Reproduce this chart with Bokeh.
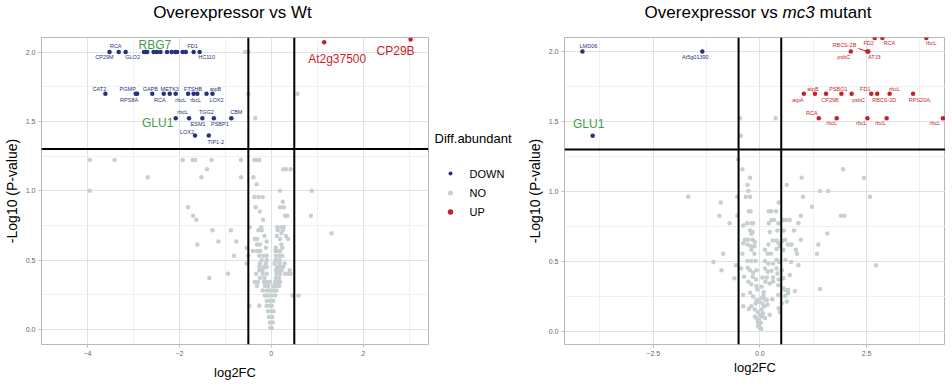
from bokeh.plotting import figure
from bokeh.models import (Range1d, FixedTicker, Span, ColumnDataSource, Div)
from bokeh.layouts import row, column
from bokeh.embed import file_html
from bokeh.resources import INLINE
from bokeh.core.properties import value

FONT = "Liberation Sans"
C_DOWN = "#27327a"
C_UP = "#c71f2b"
C_NO = "#c6d0d0"
C_HL = "#3f9d4a"

FC_CUT = [-0.5, 0.5]
P_CUT = 1.3

TITLE_L = "Overexpressor vs Wt"
TITLE_R = ["Overexpressor vs ", "mc3", " mutant"]
LEGEND_TITLE = "Diff.abundant"
LEGEND_LABELS = ["DOWN", "NO", "UP"]
LEGEND_COLORS = [C_DOWN, C_NO, C_UP]

# ---------------- Left panel: Overexpressor vs Wt ----------------
L_down_x = [-3.52, -3.32, -3.17, -2.77, -2.73, -2.70, -2.56, -2.49, -2.41, -2.27, -2.17, -2.09,
            -2.05, -1.93, -1.86, -1.69, -1.56,
            -3.61, -2.95, -2.92, -2.59, -2.34, -2.21, -2.08, -1.81, -1.69, -1.61, -1.41, -1.28,
            -2.08, -1.79, -1.50, -1.25, -0.87,
            -1.66, -1.36]
L_down_y = [2.0, 2.0, 2.0, 2.0, 2.0, 2.0, 2.0, 2.0, 2.0, 2.0, 2.0, 2.0, 2.0, 2.0, 2.0, 2.0, 2.0,
            1.699, 1.699, 1.699, 1.699, 1.699, 1.699, 1.699, 1.699, 1.699, 1.699, 1.699, 1.699,
            1.523, 1.523, 1.523, 1.523, 1.523,
            1.398, 1.398]
L_down_name = ["CP29M", "RCA", "GLO2", "", "", "", "", "", "", "", "", "", "", "", "", "FD1", "HC110",
               "CAT2", "PGMP", "RPS8A", "GAPB", "RCA", "METK3", "rbcL", "FTSHB", "rbcL", "", "LOX2", "atpB",
               "rbcL", "ESM1", "TGG2", "PSBP1", "CBM",
               "LOX2", "TIP1-2"]
L_up_x = [1.15, 3.03]
L_up_y = [2.07, 2.09]
L_up_name = ["At2g37500", "CP29B"]
L_hl_name = ["RBG7", "GLU1"]
L_hl_idx = [4, 29]

L_no_x = [-0.57, -0.50, -0.50, 0.57, -0.35,
          -3.95, -3.41, -1.93, -1.71, -1.66, -1.30, -0.66, -0.37, -0.32, -0.26,
          -1.40, 0.26, 0.32, 0.42,
          -2.69, -1.52, -0.66, -0.39,
          -0.32,
          -3.95, 0.19, 0.88,
          -0.37, -0.28, -0.19,
          0.25,
          -1.81, -0.34, 0.19, 0.27,
          -0.25,
          -1.70, 0.30, 0.35, 0.86,
          -1.63, -0.18,
          -0.47, -0.22, 0.13, 0.22, 0.27,
          -1.28, -0.88, -0.28, -0.21, 0.14, 0.25,
          1.31, 0.22,
          -0.15, 0.12, 0.32,
          -0.36, -0.31, 0.19, 0.36,
          -1.15, -0.76, -0.10,
          -1.61, -0.31, -0.25, 0.22,
          -0.54, -0.12, 0.10, 0.24,
          -0.40, -0.31, -0.24, 0.09, 0.14, 0.19,
          -0.81, -0.50, -0.26, -0.17, -0.10, 0.10, 0.18, 0.24,
          -0.21, -0.10, 0.09, 0.14, 0.18,
          -0.54, -0.25, -0.12, 0.07, 0.18, 0.29,
          -0.26, -0.17, -0.10, 0.12, 0.19, 0.26,
          -0.26, -0.19, 0.10, 0.15, 0.22, 0.40,
          -0.94, -0.33, -0.19, -0.10, 0.11, 0.19, 0.30, 0.37, 0.42,
          -1.35, -0.25, -0.15, 0.10, 0.17,
          -0.36, -0.29, -0.16, -0.09, -0.03, 0.08, 0.13, 0.19,
          -0.31, -0.14, -0.07, 0.04, 0.11, 0.17,
          -0.19, -0.10, -0.03, 0.04, 0.11,
          0.46, 0.59, -0.14, -0.07, 0.00, 0.08,
          -0.10, -0.03, 0.04,
          -0.48, -0.26, -0.10, -0.04, 0.01,
          -0.07, 0.00, 0.05,
          -0.05, 0.02,
          -0.03, 0.03,
          -0.02, 0.01]
L_no_y = [2.0, 2.0, 1.699, 1.699, 1.523,
          1.222, 1.222, 1.222, 1.222, 1.222, 1.222, 1.222, 1.222, 1.222, 1.222,
          1.155, 1.155, 1.155, 1.155,
          1.097, 1.097, 1.097, 1.097,
          1.046,
          1.0, 1.0, 1.0,
          0.954, 0.954, 0.954,
          0.92,
          0.88, 0.88, 0.88, 0.88,
          0.85,
          0.82, 0.82, 0.82, 0.82,
          0.79, 0.79,
          0.737, 0.737, 0.737, 0.737, 0.737,
          0.715, 0.715, 0.715, 0.715, 0.715, 0.715,
          0.694, 0.694,
          0.674, 0.674, 0.674,
          0.652, 0.652, 0.652, 0.652,
          0.633, 0.633, 0.633,
          0.613, 0.613, 0.613, 0.613,
          0.589, 0.589, 0.589, 0.589,
          0.565, 0.565, 0.565, 0.565, 0.565, 0.565,
          0.531, 0.531, 0.531, 0.531, 0.531, 0.531, 0.531, 0.531,
          0.499, 0.499, 0.499, 0.499, 0.499,
          0.475, 0.475, 0.475, 0.475, 0.475, 0.475,
          0.45, 0.45, 0.45, 0.45, 0.45, 0.45,
          0.426, 0.426, 0.426, 0.426, 0.426, 0.426,
          0.401, 0.401, 0.401, 0.401, 0.401, 0.401, 0.401, 0.401, 0.401,
          0.37, 0.37, 0.37, 0.37, 0.37,
          0.341, 0.341, 0.341, 0.341, 0.341, 0.341, 0.341, 0.341,
          0.312, 0.312, 0.312, 0.312, 0.312, 0.312,
          0.28, 0.28, 0.28, 0.28, 0.28,
          0.244, 0.244, 0.244, 0.244, 0.244, 0.244,
          0.207, 0.207, 0.207,
          0.171, 0.171, 0.171, 0.171, 0.171,
          0.13, 0.13, 0.13,
          0.09, 0.09,
          0.05, 0.05,
          0.01, 0.01]

# ---------------- Right panel: Overexpressor vs mc3 mutant ----------------
R_down_x = [-4.16, -1.35, -3.92]
R_down_y = [2.0, 2.0, 1.398]
R_down_name = ["LMD06", "At5g01390", ""]
R_up_x = [2.69, 2.87, 3.90, 2.13, 2.52, 2.54,
          1.03, 1.29, 1.55, 1.91, 2.15, 2.61, 2.75, 3.04, 3.59,
          1.38, 1.80, 2.52, 2.97, 4.29]
R_up_y = [2.097, 2.097, 2.097, 2.0, 2.0, 2.0,
          1.699, 1.699, 1.699, 1.699, 1.699, 1.699, 1.699, 1.699, 1.699,
          1.523, 1.523, 1.523, 1.523, 1.523]
R_up_name = ["FD2", "RCA", "rbcL", "psbC", "RBCS-2B", "ATJ3",
             "atpA", "atpB", "CP29B", "PSBO1", "psbC", "FD1", "RBCS-2D", "rbcL", "RPS20A;",
             "RCA", "rbcL", "rbcL", "rbcL", "rbcL"]
R_hl_name = ["GLU1"]
R_hl_idx = [2]

R_no_x = [-0.51, -0.41, 1.95, -0.23, 0.98, 2.44, -0.29, 0.63, -0.27, 1.41, 1.60, -1.68, -0.53, -0.33,
          -0.23, 1.01, 2.58, -0.92, 0.44, 1.22, -0.26, -0.22, 0.21, 0.27, 0.38, -0.95, -0.53, 0.96,
          1.90, 1.98, -0.71, -0.39, -0.30, -0.20, -0.16, 0.21, 0.27, 0.33, 0.43, 0.56, 0.63, 0.70,
          0.90, -0.23, -0.17, -0.20, 0.23, 0.41, 0.56, 0.80, 1.58, -0.35, -0.27, -0.17, -0.12, -0.29,
          -0.21, -0.13, 0.20, 0.30, 0.39, 0.44, 0.52, 0.59, 0.66, 0.74, 0.96, 1.37, -0.39, -0.41,
          -0.20, -0.13, 0.12, 0.18, 0.26, 0.39, 0.47, 0.55, 0.84, 0.87, 1.34, -0.86, -1.09, -0.56,
          -0.29, -0.20, -0.10, 0.12, 0.20, 0.31, 0.39, 0.45, 0.60, 0.73, 0.90, 2.72, -0.90, -0.44,
          -0.29, -0.23, -0.16, -0.08, 0.12, 0.18, 0.27, 0.39, 0.51, 0.70, -0.17, -0.09, 0.06, 0.16,
          0.31, 0.44, 0.55, 0.41, -0.60, -0.37, -0.27, -0.20, -0.08, 0.04, 0.13, 0.23, 0.31, 0.43,
          0.55, 0.60, 0.66, 0.82, 1.41, -0.39, -0.23, -0.16, -0.08, -0.02, 0.02, 0.08, 0.16, 0.29,
          0.43, 0.59, 0.63, 0.51, 0.66, -0.39, -0.26, -0.20, -0.12, -0.05, 0.00, 0.04, 0.10, 0.18,
          0.47, 0.44, -0.08, -0.02, 0.02, -0.04, 0.00, -0.05, 0.05, 0.12, -0.12, 0.23, -0.47, 0.37,
          -0.45, -0.03, 0.03, 0.07, -0.10, 0.06, 0.12, -0.06, 0.09]
R_no_y = [1.229, 1.158, 1.158, 1.099, 1.099, 1.099, 1.047, 1.047, 1.004, 1.004, 1.004, 0.962, 0.962,
          0.962, 0.962, 0.962, 0.962, 0.922, 0.922, 0.891, 0.858, 0.858, 0.858, 0.858, 0.858, 0.827,
          0.827, 0.827, 0.827, 0.827, 0.773, 0.757, 0.773, 0.773, 0.773, 0.773, 0.797, 0.797, 0.773,
          0.797, 0.797, 0.797, 0.773, 0.721, 0.710, 0.698, 0.710, 0.721, 0.721, 0.721, 0.700, 0.655,
          0.655, 0.655, 0.639, 0.622, 0.608, 0.608, 0.622, 0.650, 0.650, 0.630, 0.645, 0.655, 0.622,
          0.622, 0.655, 0.622, 0.630, 0.556, 0.584, 0.556, 0.584, 0.556, 0.556, 0.590, 0.608, 0.584,
          0.584, 0.556, 0.556, 0.556, 0.496, 0.473, 0.504, 0.504, 0.504, 0.504, 0.485, 0.485, 0.510,
          0.496, 0.510, 0.496, 0.473, 0.473, 0.438, 0.450, 0.455, 0.438, 0.420, 0.438, 0.450, 0.426,
          0.433, 0.450, 0.438, 0.403, 0.391, 0.372, 0.386, 0.386, 0.386, 0.372, 0.380, 0.415, 0.380,
          0.391, 0.355, 0.338, 0.324, 0.319, 0.355, 0.343, 0.357, 0.331, 0.308, 0.296, 0.296, 0.289,
          0.303, 0.261, 0.277, 0.249, 0.225, 0.213, 0.237, 0.254, 0.225, 0.230, 0.261, 0.254, 0.214,
          0.202, 0.273, 0.180, 0.161, 0.180, 0.157, 0.140, 0.119, 0.157, 0.180, 0.192, 0.140, 0.166,
          0.096, 0.085, 0.061, 0.038, 0.025, 0.072, 0.107, 0.096, 0.107, 0.119, 1.523, 1.523, 1.398,
          0.050, 0.020, 0.130, 0.200, 0.200, 0.230, 0.300, 0.280]

# ---------------- label layout (pixel offsets, not data) ----------------
L_down_dx = [-5, -3, 7, 0, 0, 0, 0, 0, 0, 0, 0, 0, 0, 0, 0, -1, 7,
             -6, -8, -8, -2, -4, 0, 5, 5, 2, 0, 10, 3,
             7, 9, 4, 6, 5, -8, 7]
L_down_dy = [5, -6, 5, 0, 0, 0, 0, 0, 0, 0, 0, 0, 0, 0, 0, -6, 5,
             -5, -5, 6, -5, 6, -5, 6, -5, 6, 0, 6, -5,
             -6, 6, -6, 6, -6, -4, 6]
L_up_dx = [13, -15]
L_up_dy = [17, 11]
L_hl_dx = [9, -18]
L_hl_dy = [-7, 5]
R_down_dx = [6, -7, 0]
R_down_dy = [-5, 6, 0]
R_up_dx = [-6, 7, 5, -7, -23, 6, -6, -2, 4, -3, 7, -6, 7, 5, 7, -7, -5, -6, -6, -8]
R_up_dy = [5, 5, 5, 6, -6, 6, 6, -5, 6, -5, 6, -5, 6, -5, 6, -5, 5, 5, 5, 5]
R_hl_dx = [-4]
R_hl_dy = [-12]

# shared vertical geometry of the three canvases
TOP, FH, BOT = 7, 307, 37


def make_panel(xr, yr, fw, mb_left, mb_right, xticks, xminor, xlabels, xstand):
    p = figure(frame_width=fw, frame_height=FH, x_range=Range1d(*xr), y_range=Range1d(*yr),
               output_backend="svg", toolbar_location=None, title=None,
               min_border_left=mb_left, min_border_right=mb_right,
               min_border_top=TOP, min_border_bottom=BOT,
               background_fill_color="white", border_fill_color="white")
    p.outline_line_color = "#b8b8b8"
    p.outline_line_width = 1
    p.xaxis.ticker = FixedTicker(ticks=xticks, minor_ticks=xminor)
    p.yaxis.ticker = FixedTicker(ticks=[0, 0.5, 1.0, 1.5, 2.0], minor_ticks=[0.25, 0.75, 1.25, 1.75])
    p.xaxis.major_label_overrides = xlabels
    p.yaxis.major_label_overrides = {0: "0.0", 0.5: "0.5", 1.0: "1.0", 1.5: "1.5", 2.0: "2.0"}
    for g in (p.xgrid, p.ygrid):
        g.grid_line_color = "#e2e2e2"
        g.grid_line_width = 1
        g.minor_grid_line_color = "#f0f0f0"
    for ax in (p.xaxis, p.yaxis):
        ax.axis_line_color = None
        ax.major_tick_line_color = "#b8b8b8"
        ax.major_tick_out = 3
        ax.major_tick_in = 0
        ax.minor_tick_line_color = None
        ax.major_label_text_font = FONT
        ax.major_label_text_font_size = "7px"
        ax.major_label_text_color = "#666666"
        ax.major_label_standoff = 2
        ax.axis_label_text_font = FONT
        ax.axis_label_text_font_style = "normal"
        ax.axis_label_text_color = "black"
    p.xaxis.axis_label = "log2FC"
    p.xaxis.axis_label_text_font_size = "13px"
    p.xaxis.axis_label_standoff = xstand
    p.yaxis.axis_label = "-Log10 (P-value)"
    p.yaxis.axis_label_text_font_size = "14px"
    p.yaxis.axis_label_standoff = 3
    return p


def add_thresholds(p):
    for fc in FC_CUT:
        p.add_layout(Span(location=fc, dimension="height", line_color="black", line_width=2))
    p.add_layout(Span(location=P_CUT, dimension="width", line_color="black", line_width=2))


def add_points(p, nx, ny, dx_, dy_, ux, uy):
    p.scatter(nx, ny, size=4.5, color=C_NO, line_color=None)
    p.scatter(dx_, dy_, size=4.5, color=C_DOWN, line_color=None)
    p.scatter(ux, uy, size=4.5, color=C_UP, line_color=None)


def add_text(p, xs, ys, names, ox, oy, color, size, align="center"):
    src = ColumnDataSource(dict(x=xs, y=ys, t=names, ox=ox, oy=oy))
    p.text(x="x", y="y", text="t", x_offset="ox", y_offset="oy", source=src,
           text_font=value(FONT), text_font_size=size, text_color=color,
           text_align=align, text_baseline="middle")


TSTYLE = ("font-family:'Liberation Sans';font-size:17px;line-height:16px;color:black;"
          "text-align:center;white-space:nowrap;")

# ---- left figure ----
LXR = (-5.0, 3.42)
LYR = (-0.109, 2.105)
p1 = make_panel(LXR, LYR, 387, 34, 1,
                [-4, -2, 0, 2], [-3, -1, 1, 3],
                {-4: "\u22124", -2: "\u22122", 0: "0", 2: "2"}, 6)
add_thresholds(p1)
add_points(p1, L_no_x, L_no_y, L_down_x, L_down_y, L_up_x, L_up_y)
add_text(p1, L_down_x, L_down_y, L_down_name, L_down_dx, L_down_dy, C_DOWN, "5.5px")
add_text(p1, L_up_x, L_up_y, L_up_name, L_up_dx, L_up_dy, C_UP, "12px")
add_text(p1, [L_down_x[i] for i in L_hl_idx], [L_down_y[i] for i in L_hl_idx], L_hl_name,
         L_hl_dx, L_hl_dy, C_HL, "12px")

# ---- legend strip: a small canvas whose ranges are in pixels (y downwards) ----
LEG_W = 94
pl = figure(frame_width=LEG_W, frame_height=FH, output_backend="svg", toolbar_location=None,
            title=None, x_axis_type=None, y_axis_type=None,
            min_border_left=0, min_border_right=0, min_border_top=TOP, min_border_bottom=BOT,
            x_range=Range1d(0, LEG_W), y_range=Range1d(FH, 0))
pl.outline_line_color = None
pl.xgrid.visible = False
pl.ygrid.visible = False
leg_title_y = 101
leg_row_y = [136, 155.5, 174.5]
pl.text(x=[5], y=[leg_title_y], text=[LEGEND_TITLE], text_font=value(FONT), text_font_size="13px",
        text_color="black", text_align="left", text_baseline="middle")
pl.scatter(x=[21, 21, 21], y=leg_row_y, size=[4, 5, 5.5], color=LEGEND_COLORS, line_color=None)
pl.text(x=[40, 40, 40], y=leg_row_y, text=LEGEND_LABELS, text_font=value(FONT), text_font_size="11px",
        text_color="black", text_align="left", text_baseline="middle")

# ---- right figure ----
RXR = (-4.58, 4.35)
RYR = (-0.093, 2.10)
p2 = make_panel(RXR, RYR, 381, 32, 0,
                [-2.5, 0, 2.5], [-3.75, -1.25, 1.25, 3.75],
                {-2.5: "\u22122.5", 0: "0.0", 2.5: "2.5"}, 1)
add_thresholds(p2)
add_points(p2, R_no_x, R_no_y, R_down_x, R_down_y, R_up_x, R_up_y)
ppu_x2 = 381 / (RXR[1] - RXR[0])
ppu_y2 = FH / (RYR[1] - RYR[0])
k = R_up_name.index("RBCS-2B")
p2.segment(x0=[R_up_x[k]], y0=[R_up_y[k]], x1=[R_up_x[k] - 9 / ppu_x2], y1=[R_up_y[k] + 3 / ppu_y2],
           line_color=C_UP, line_width=1)
add_text(p2, R_down_x, R_down_y, R_down_name, R_down_dx, R_down_dy, C_DOWN, "5.5px")
add_text(p2, R_up_x, R_up_y, R_up_name, R_up_dx, R_up_dy, C_UP, "5.5px")
add_text(p2, [R_down_x[i] for i in R_hl_idx], [R_down_y[i] for i in R_hl_idx], R_hl_name,
         R_hl_dx, R_hl_dy, C_HL, "12px")

# ---- titles (HTML, so that "mc3" can be italic) ----
d1 = Div(text=f'<div style="{TSTYLE}width:387px;margin-left:34px;">{TITLE_L}</div>',
         width=516, height=20)
d2 = Div(text=f'<div style="{TSTYLE}width:454px;">{TITLE_R[0]}<i>{TITLE_R[1]}</i>{TITLE_R[2]}</div>',
         width=413, height=20)

layout = column(row(d1, d2), row(p1, pl, p2))
open("out.html", "w").write(file_html(layout, INLINE))
